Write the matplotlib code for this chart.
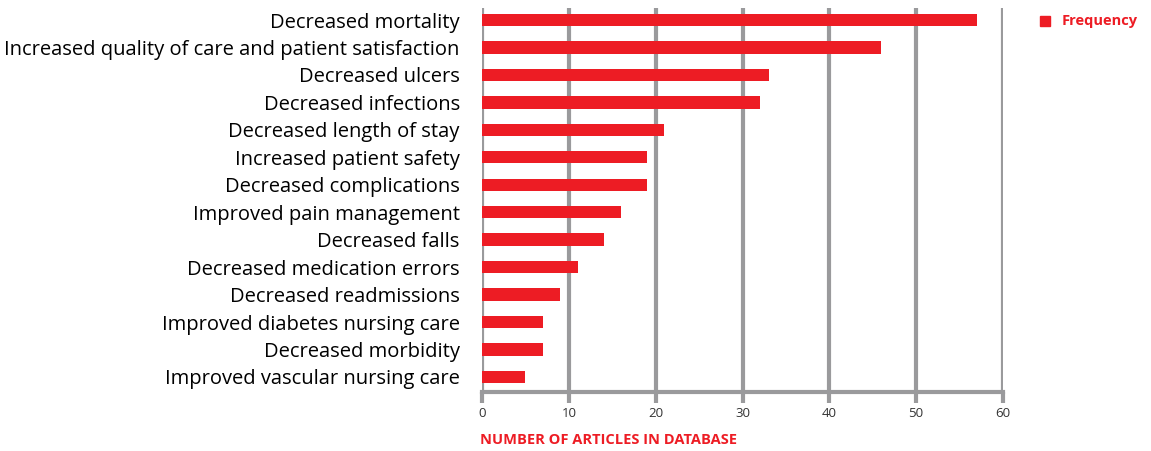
import matplotlib
matplotlib.use("Agg")
from matplotlib import pyplot as plt
from matplotlib.patches import Rectangle

# Data
outcomes = [
    'Decreased mortality',
    'Increased quality of care and patient satisfaction',
    'Decreased ulcers',
    'Decreased infections',
    'Decreased length of stay',
    'Increased patient safety',
    'Decreased complications',
    'Improved pain management',
    'Decreased falls',
    'Decreased medication errors',
    'Decreased readmissions',
    'Improved diabetes nursing care',
    'Decreased morbidity',
    'Improved vascular nursing care',
]
frequency = [57, 46, 33, 32, 21, 19, 19, 16, 14, 11, 9, 7, 7, 5]
xticks = [0, 10, 20, 30, 40, 50, 60]

red = '#ed1c24'
grey = '#9a9a9c'

plt.rcParams['font.family'] = ['Open Sans', 'DejaVu Sans']

fig = plt.figure(figsize=(11.51, 4.51), dpi=100)
ax = fig.add_axes([482/1151, 1 - 392/451, (1003 - 482)/1151, (392 - 8)/451])

n = len(outcomes)
ypos = list(range(n - 1, -1, -1))
ax.barh(ypos, frequency, height=0.45, color=red, zorder=3, label='Frequency')

ax.set_xlim(0, 60)
ax.set_ylim(-0.55, n - 1 + 0.44)
ax.set_xticks(xticks)
ax.set_yticks(ypos)
ax.set_yticklabels(outcomes, fontsize=14.5, color='black')

ax.grid(axis='x', color=grey, linewidth=3, zorder=1)
ax.grid(axis='y', visible=False)
for side in ['top', 'right', 'left']:
    ax.spines[side].set_visible(False)
ax.spines['bottom'].set_color(grey)
ax.spines['bottom'].set_linewidth(3)
ax.tick_params(axis='x', direction='out', length=8, width=3, color=grey,
               labelsize=9.5, labelcolor='#333333', pad=3)
ax.tick_params(axis='y', length=0, pad=16)

fig.text(480/1151, 1 - 440/451, 'NUMBER OF ARTICLES IN DATABASE', color=red,
         fontsize=10.5, fontweight='bold', ha='left', va='center')

# Legend
fig.patches.append(Rectangle((1040/1151, 1 - 26/451), 10/1151, 10/451,
                             transform=fig.transFigure, color=red))
fig.text(1062/1151, 1 - 21/451, 'Frequency', color=red, fontsize=10.5,
         fontweight='bold', ha='left', va='center')

fig.savefig('out.png', dpi=100)
